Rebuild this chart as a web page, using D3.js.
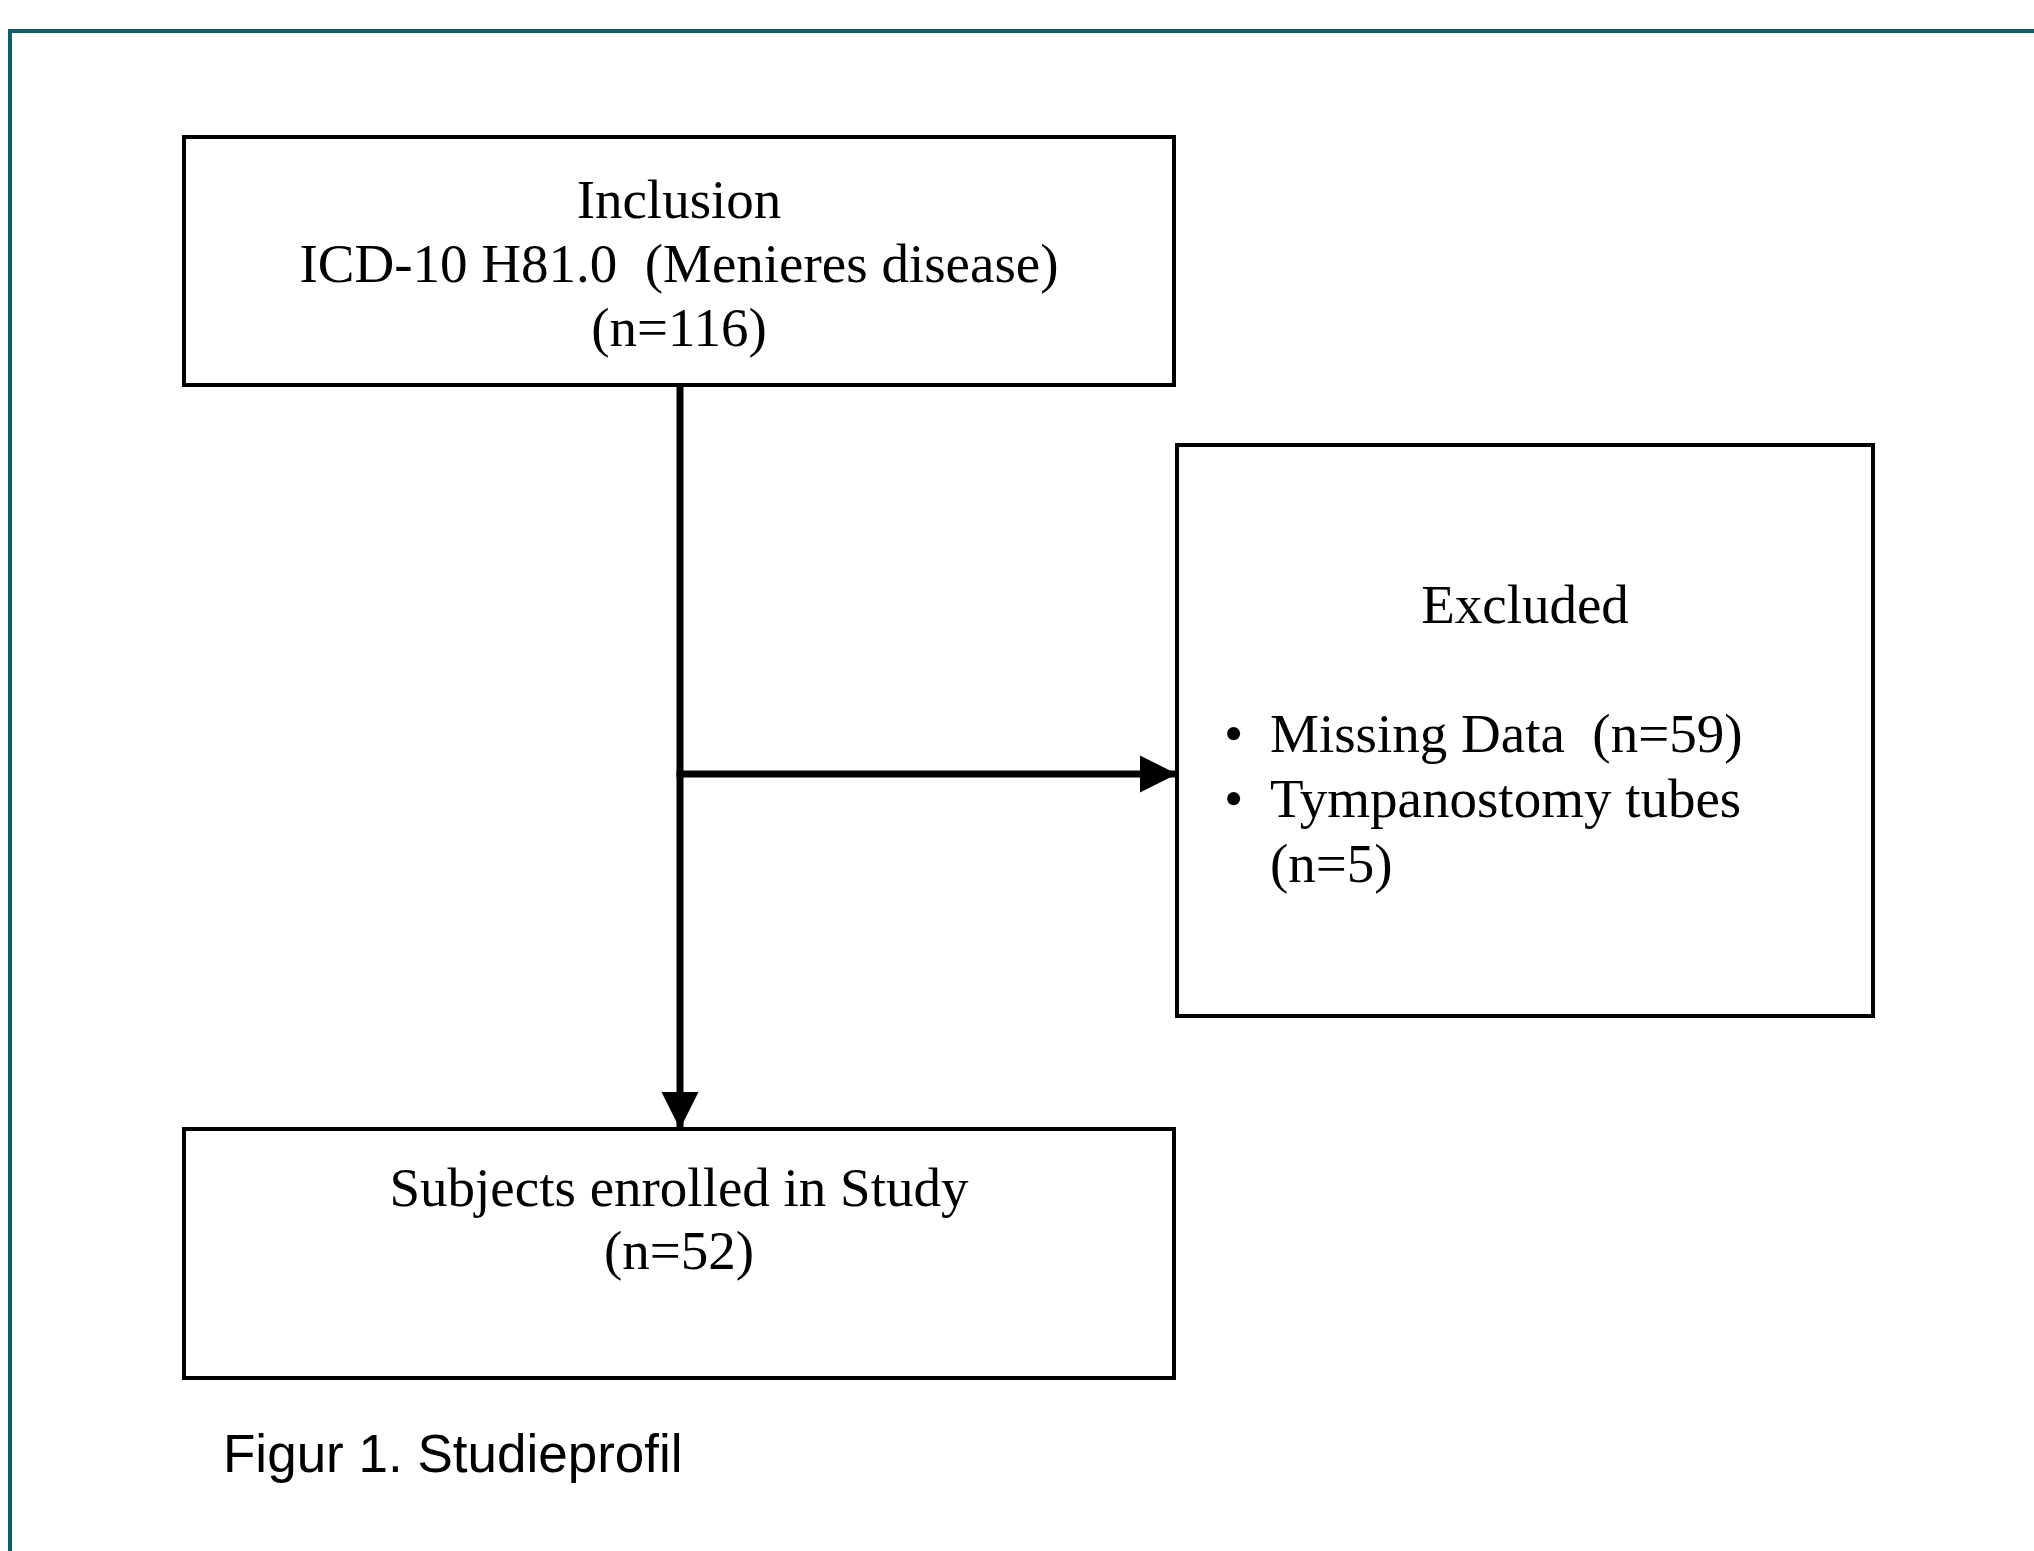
<!DOCTYPE html>
<html>
<head>
<meta charset="utf-8">
<script src="https://cdn.jsdelivr.net/npm/d3@7"></script>
<style>
  body { margin: 0; background: #fff; }
  text { white-space: pre; }
</style>
</head>
<body>
<div id="chart"></div>
<script>
// flow chart content
const inclusionLines = ["Inclusion", "ICD-10 H81.0  (Menieres disease)", "(n=116)"];
const excludedTitle = "Excluded";
const excludedLines = ["Missing Data  (n=59)", "Tympanostomy tubes", "(n=5)"];
const excludedBullets = [true, true, false];
const enrolledLines = ["Subjects enrolled in Study", "(n=52)"];
const caption = "Figur 1. Studieprofil";

const width = 2034, height = 1551;
const serif = "'Liberation Serif', 'Times New Roman', serif";
const fontSize = 55, lineH = 64;

const svg = d3.select("#chart").append("svg")
  .attr("width", width)
  .attr("height", height);

svg.append("defs").selectAll("marker")
  .data(["arrow"])
  .join("marker")
  .attr("id", d => d)
  .attr("viewBox", "0 0 10 10")
  .attr("refX", 10).attr("refY", 5)
  .attr("markerUnits", "userSpaceOnUse")
  .attr("markerWidth", 37).attr("markerHeight", 40)
  .attr("orient", "auto")
  .append("path")
  .attr("d", "M0,0L10,5L0,10Z")
  .attr("fill", "#000");

// outer frame (runs off the right and bottom edge)
svg.append("path")
  .attr("d", `M10,${height + 10}V31H${width + 10}`)
  .attr("fill", "none")
  .attr("stroke", "#0b5e6c")
  .attr("stroke-width", 4);

// boxes
const boxes = [
  { id: "inc", x: 184, y: 137, w: 990, h: 248 },
  { id: "exc", x: 1177, y: 445, w: 696, h: 571 },
  { id: "enr", x: 184, y: 1129, w: 990, h: 249 }
];

svg.selectAll("rect.box")
  .data(boxes)
  .join("rect")
  .attr("class", "box")
  .attr("x", d => d.x).attr("y", d => d.y)
  .attr("width", d => d.w).attr("height", d => d.h)
  .attr("fill", "none")
  .attr("stroke", "#000")
  .attr("stroke-width", 4);

const b1 = boxes[0], b2 = boxes[1], b3 = boxes[2];
const cx = 680;

// arrows
svg.append("line")
  .attr("x1", cx).attr("y1", b1.y + b1.h)
  .attr("x2", cx).attr("y2", b3.y)
  .attr("stroke", "#000").attr("stroke-width", 7)
  .attr("marker-end", "url(#arrow)");

svg.append("line")
  .attr("x1", cx - 3.5).attr("y1", 774)
  .attr("x2", b2.x).attr("y2", 774)
  .attr("stroke", "#000").attr("stroke-width", 7)
  .attr("marker-end", "url(#arrow)");

// text in boxes
svg.selectAll("text.inc")
  .data(inclusionLines)
  .join("text")
  .attr("class", "inc")
  .attr("x", 679)
  .attr("y", (d, i) => 218 + i * lineH)
  .attr("text-anchor", "middle")
  .attr("font-family", serif)
  .attr("font-size", fontSize)
  .text(d => d);

svg.append("text")
  .attr("x", b2.x + b2.w / 2)
  .attr("y", 623)
  .attr("text-anchor", "middle")
  .attr("font-family", serif)
  .attr("font-size", fontSize)
  .text(excludedTitle);

const exc = svg.selectAll("g.exc")
  .data(excludedLines)
  .join("g")
  .attr("class", "exc")
  .attr("transform", (d, i) => `translate(0,${752 + i * 65})`);

exc.filter((d, i) => excludedBullets[i])
  .append("text")
  .attr("x", 1224)
  .attr("font-family", serif)
  .attr("font-size", fontSize)
  .text("\u2022");

exc.append("text")
  .attr("x", 1270)
  .attr("font-family", serif)
  .attr("font-size", fontSize)
  .text(d => d);

svg.selectAll("text.enr")
  .data(enrolledLines)
  .join("text")
  .attr("class", "enr")
  .attr("x", 679)
  .attr("y", (d, i) => 1206 + i * 63)
  .attr("text-anchor", "middle")
  .attr("font-family", serif)
  .attr("font-size", fontSize)
  .text(d => d);

// caption
svg.append("text")
  .attr("x", 223)
  .attr("y", 1472)
  .attr("font-family", "'Liberation Sans', Arial, sans-serif")
  .attr("font-size", 53)
  .text(caption);
</script>
</body>
</html>
